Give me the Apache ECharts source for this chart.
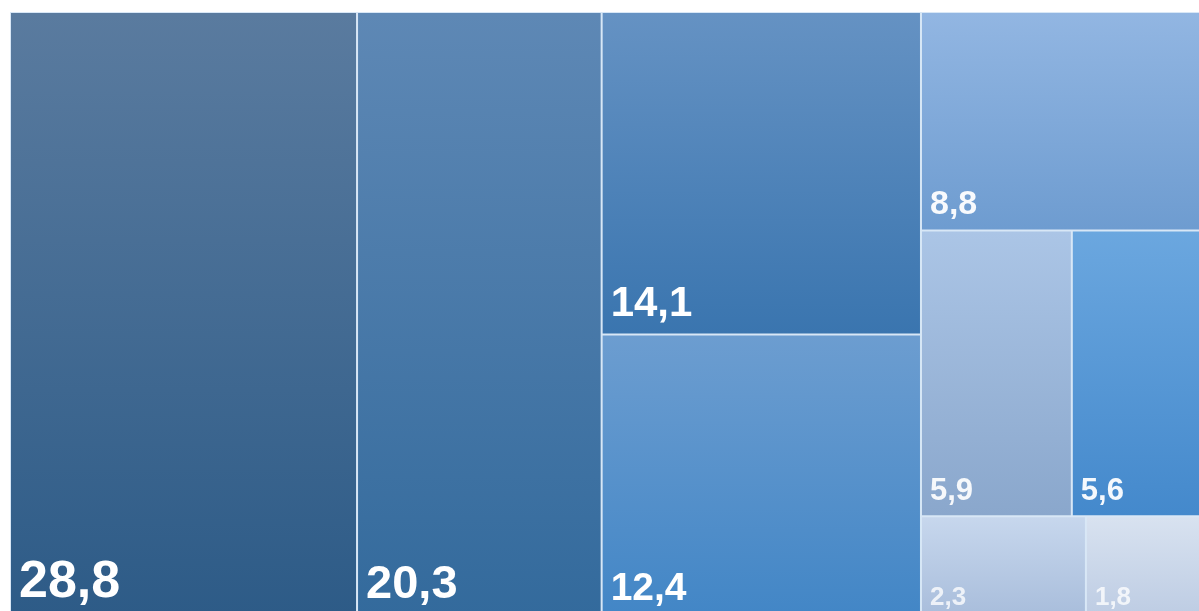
<!DOCTYPE html>
<html>
<head>
<meta charset="utf-8">
<script src="https://cdn.jsdelivr.net/npm/echarts@6/dist/echarts.min.js"></script>
<style>
html,body{margin:0;padding:0;background:#fff;}
#c{width:1199px;height:611px;}
</style>
</head>
<body>
<div id="c"></div>
<script>
// ---- data ----
const values = [28.8, 20.3, 14.1, 12.4, 8.8, 5.9, 5.6, 2.3, 1.8];
const names = ['A', 'B', 'C', 'D', 'E', 'F', 'G', 'H', 'I'];

// ---- styles (kept apart from data) ----
const topColors = ['#5a7b9f', '#5e88b5', '#6592c3', '#6c9dd0', '#92b6e2', '#abc5e6', '#6ba7df', '#c7d7ed', '#d8e2f0'];
const bottomColors = ['#2d5b87', '#336a9c', '#3a75af', '#4286c6', '#6e9cd0', '#8aa7cc', '#4489cc', '#a8bddb', '#bdcce3'];
const fontSizes = [52, 47, 42, 39, 34, 31, 31, 26, 26];
const labelPadBottom = [8, 8, 8, 8, 8, 8, 8, 6, 6];
const labelColors = ['#ffffff', '#ffffff', '#ffffff', '#ffffff', 'rgba(255,255,255,0.95)', 'rgba(255,255,255,0.92)', 'rgba(255,255,255,0.95)', 'rgba(255,255,255,0.78)', 'rgba(255,255,255,0.78)'];

function leaf(i) {
  return {
    name: names[i],
    value: values[i],
    itemStyle: {
      borderWidth: 1,
      borderColor: '#d8e7f6',
      color: {
        type: 'linear', x: 0, y: 0, x2: 0, y2: 1,
        colorStops: [
          { offset: 0, color: topColors[i] },
          { offset: 1, color: bottomColors[i] }
        ]
      }
    },
    label: {
      fontSize: fontSizes[i],
      color: labelColors[i],
      padding: [0, 0, labelPadBottom[i], 8]
    }
  };
}

// hierarchy that gives the column / row arrangement
const treeData = [
  leaf(0),
  leaf(1),
  { name: 'g3', children: [leaf(2), leaf(3)] },
  { name: 'g4', children: [
      leaf(4),
      { name: 'g5', children: [
          { name: 'g6', children: [leaf(5), leaf(6)] },
          { name: 'g7', children: [leaf(7), leaf(8)] }
      ] }
  ] }
];

const chart = echarts.init(document.getElementById('c'));
chart.setOption({
  animation: false,
  series: [{
    type: 'treemap',
    left: 10,
    top: 12,
    width: 1205,
    height: 606,
    sort: false,
    squareRatio: 0.7,
    roam: false,
    nodeClick: false,
    breadcrumb: { show: false },
    visibleMin: 0,
    itemStyle: { borderWidth: 0, gapWidth: 0, borderColor: '#d8e7f6' },
    upperLabel: { show: false },
    label: {
      show: true,
      position: 'insideBottomLeft',
      distance: 0,
      padding: [0, 0, 8, 8],
      fontFamily: 'Liberation Sans, Arial, sans-serif',
      fontWeight: 'bold',
      color: '#fff',
      overflow: 'none',
      formatter: function (p) { return String(p.value).replace('.', ','); }
    },
    data: treeData
  }]
});
</script>
</body>
</html>
